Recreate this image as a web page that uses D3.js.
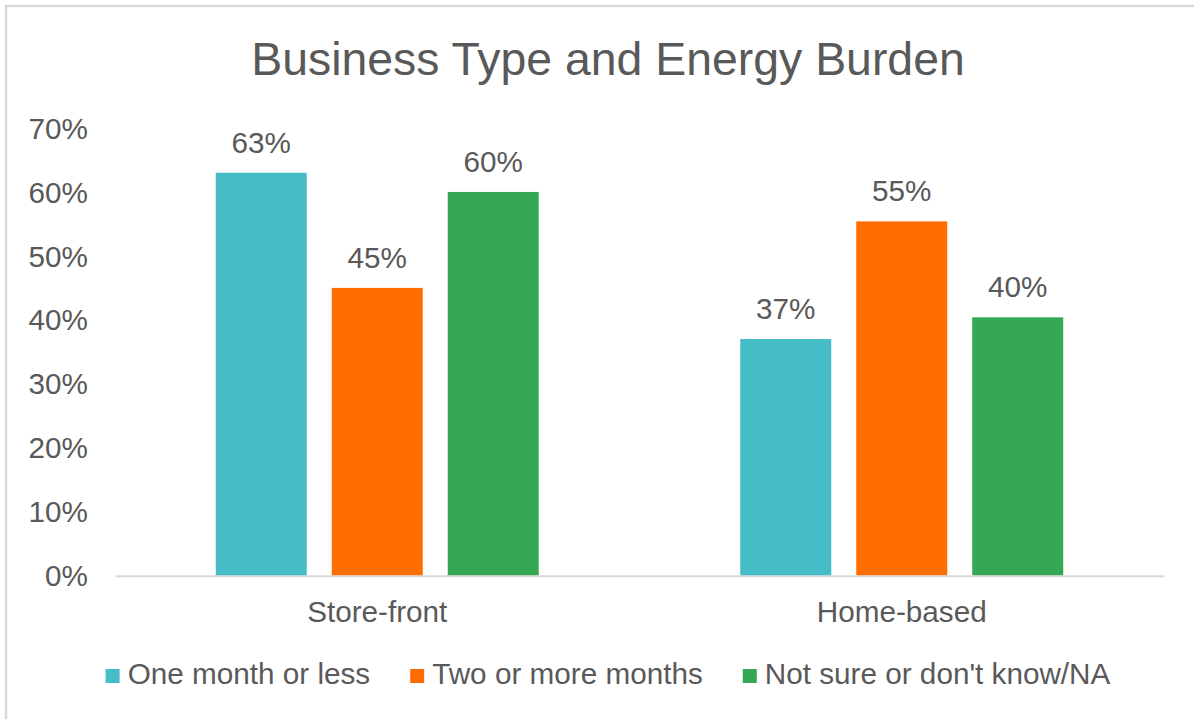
<!DOCTYPE html>
<html>
<head>
  <meta charset="UTF-8">
  <title>Business Type and Energy Burden</title>
  <script src="https://d3js.org/d3.v7.min.js"></script>
  <style>
    body { margin: 0; background: #fff; }
    text { font-family: "Liberation Sans", Arial, sans-serif; fill: #595959; }
  </style>
</head>
<body>
  <div id="chart"></div>
  <script>
    // chart data
    const categories = ["Store-front", "Home-based"];
    const seriesNames = ["One month or less", "Two or more months", "Not sure or don't know/NA"];
    const oneMonth = [63, 37];
    const twoOrMore = [45, 55.4];
    const notSure = [60, 40.4];
    const yTicks = [0, 10, 20, 30, 40, 50, 60, 70];
    const colors = ["#46BDC6", "#FF6D01", "#34A853"];

    const seriesValues = [oneMonth, twoOrMore, notSure];
    const data = categories.map((c, i) => ({
      category: c,
      values: seriesNames.map((s, j) => ({ series: s, value: seriesValues[j][i] }))
    }));

    const W = 1194, H = 719;
    const margin = { top: 128, right: 30, bottom: 143, left: 115 };
    const centerX = 608;
    const fontSize = "29.7px";

    const svg = d3.select("#chart")
      .append("svg")
      .attr("width", W)
      .attr("height", H);

    // chart area border (cropped at right and bottom)
    svg.append("rect")
      .attr("x", 6).attr("y", 6)
      .attr("width", 1400).attr("height", 1000)
      .attr("fill", "none")
      .attr("stroke", "#d9d9d9")
      .attr("stroke-width", 2.5);

    const x0 = d3.scaleBand()
      .domain(categories)
      .range([margin.left, W - margin.right]);

    const x1 = d3.scaleBand()
      .domain(seriesNames)
      .range([0, x0.bandwidth()])
      .paddingInner(0.2155)
      .paddingOuter(0.8686);

    const y = d3.scaleLinear()
      .domain([0, 70])
      .range([H - margin.bottom - 0.3, margin.top]);

    const color = d3.scaleOrdinal().domain(seriesNames).range(colors);

    // title
    svg.append("text")
      .attr("x", centerX)
      .attr("y", 75)
      .attr("text-anchor", "middle")
      .style("font-size", "46.4px")
      .text("Business Type and Energy Burden");

    // y axis labels
    const yAxis = svg.append("g")
      .attr("transform", "translate(" + 90 + ",0)")
      .call(d3.axisLeft(y).tickValues(yTicks).tickFormat(d => d + "%").tickSize(0).tickPadding(2));
    yAxis.select(".domain").remove();
    yAxis.selectAll("text")
      .style("font-size", fontSize)
      .style("font-family", null)
      .attr("fill", null)
      .attr("dy", "0.34em");

    // bars
    const groups = svg.selectAll(".group")
      .data(data)
      .enter()
      .append("g")
      .attr("class", "group")
      .attr("transform", d => "translate(" + x0(d.category) + ",0)");

    groups.selectAll("rect")
      .data(d => d.values)
      .enter()
      .append("rect")
      .attr("x", d => x1(d.series))
      .attr("y", d => y(d.value))
      .attr("width", x1.bandwidth())
      .attr("height", d => y(0) - y(d.value))
      .attr("fill", d => color(d.series));

    groups.selectAll(".label")
      .data(d => d.values)
      .enter()
      .append("text")
      .attr("class", "label")
      .attr("x", d => x1(d.series) + x1.bandwidth() / 2)
      .attr("y", d => y(d.value) - 20)
      .attr("text-anchor", "middle")
      .style("font-size", fontSize)
      .text(d => Math.round(d.value) + "%");

    // x axis
    const xAxis = svg.append("g")
      .attr("transform", "translate(0," + y(0) + ")")
      .call(d3.axisBottom(x0).tickSize(0).tickPadding(0));
    xAxis.select(".domain")
      .attr("stroke", "#d9d9d9")
      .attr("stroke-width", 2);
    xAxis.selectAll("text")
      .style("font-size", fontSize)
      .style("font-family", null)
      .attr("fill", null)
      .attr("dy", null)
      .attr("y", 46);

    // legend
    const legend = svg.append("g");
    let lx = 0;
    seriesNames.forEach((s, i) => {
      const item = legend.append("g").attr("transform", "translate(" + lx + ",0)");
      item.append("rect")
        .attr("x", 0).attr("y", 669)
        .attr("width", 14).attr("height", 14)
        .attr("fill", color(s));
      const t = item.append("text")
        .attr("x", 22).attr("y", 684)
        .style("font-size", fontSize)
        .text(s);
      lx += 22 + t.node().getComputedTextLength() + 40;
    });
    const legendWidth = lx - 40;
    legend.attr("transform", "translate(" + (centerX - legendWidth / 2) + ",0)");
  </script>
</body>
</html>
